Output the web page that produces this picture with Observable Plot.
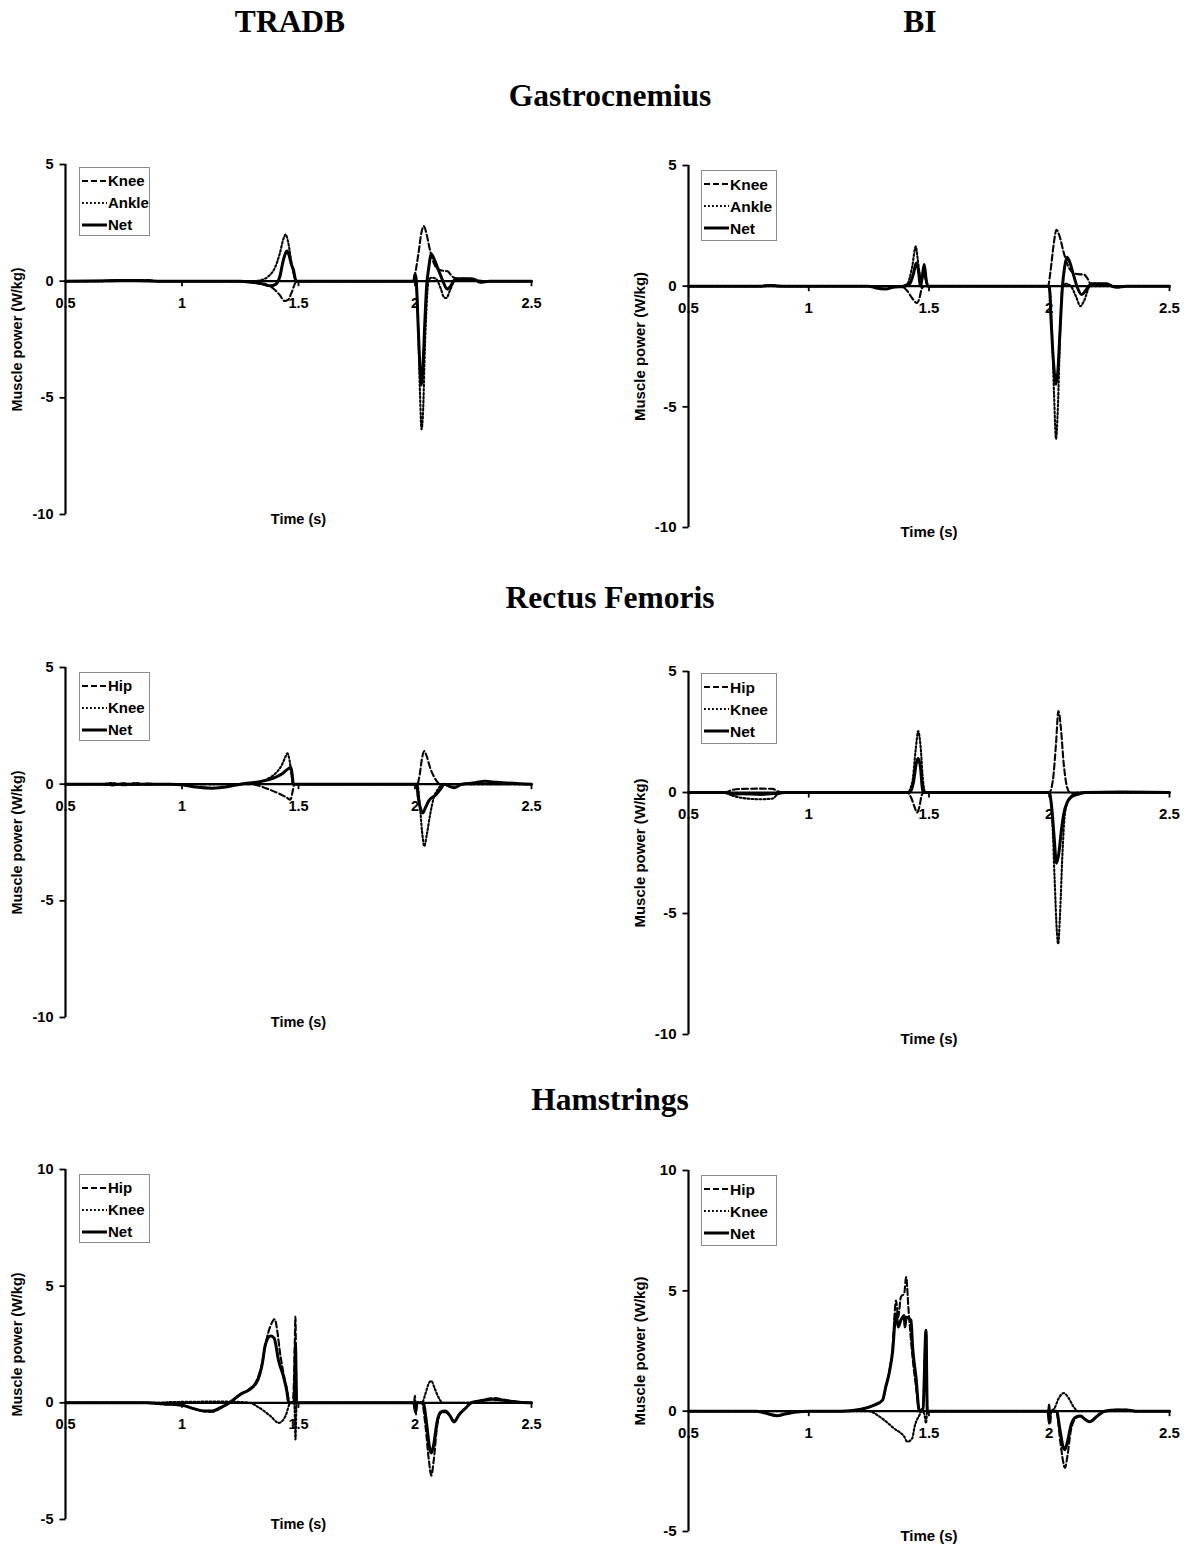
<!DOCTYPE html>
<html>
<head>
<meta charset="utf-8">
<script src="https://cdn.jsdelivr.net/npm/d3@7"></script>
<script src="https://cdn.jsdelivr.net/npm/@observablehq/plot@0.6"></script>
<style>
  html, body { margin: 0; padding: 0; background: #fff; }
  #page { position: relative; width: 1190px; height: 1546px; background: #fff; overflow: hidden; }
  .title { position: absolute; transform: translate(-50%, -50%); font-family: "Liberation Serif", "Times New Roman", serif; font-weight: bold; font-size: 31.5px; line-height: 1; white-space: nowrap; color: #000; }
  .panel { position: absolute; }
  .panel svg { max-width: none !important; }
</style>
</head>
<body>
<div id="page"></div>
<script>
// ---------- text / categories ----------
const groups = ["TRADB", "BI"];
const muscles = ["Gastrocnemius", "Rectus Femoris", "Hamstrings"];
const legendGastro = ["Knee", "Ankle", "Net"];
const legendThigh = ["Hip", "Knee", "Net"];
const xTicks = [0.5, 1, 1.5, 2, 2.5];
const yTicksSmall = [5, 0, -5, -10];
const yTicksHam = [10, 5, 0, -5];
const xLabel = "Time (s)";
const yLabel = "Muscle power (W/kg)";

// ---------- data: [time (s), power (W/kg)] ----------
// Gastrocnemius, TRADB
const gasTradbKnee = [[0.5,0],[0.65,0],[0.7,0.03],[0.75,0.05],[0.8,0.04],[0.85,0.05],[0.9,0],[1.2,0],[1.3,-0.05],[1.35,-0.15],[1.39,-0.3],[1.42,-0.6],[1.44,-0.85],[1.455,-0.8],[1.47,-0.5],[1.485,-0.1],[1.495,0],[1.99,0],[2.0,0.3],[2.015,1.2],[2.028,2.1],[2.038,2.36],[2.05,2.0],[2.065,1.3],[2.08,0.8],[2.1,0.5],[2.12,0.45],[2.14,0.42],[2.16,0.2],[2.18,0.12],[2.22,0.1],[2.26,0.05],[2.3,0],[2.5,0]];
const gasTradbAnkle = [[0.5,0],[0.65,0],[0.7,0.04],[0.8,0.05],[0.85,0.03],[0.9,0],[1.3,0],[1.34,0.05],[1.37,0.2],[1.4,0.6],[1.42,1.2],[1.435,1.8],[1.445,2.0],[1.455,1.7],[1.47,0.8],[1.485,0.1],[1.495,0],[2.0,0],[2.008,-0.5],[2.015,-2.5],[2.022,-5.0],[2.028,-6.35],[2.035,-5.5],[2.042,-3.0],[2.05,-1.0],[2.058,0],[2.07,0.15],[2.09,0.1],[2.11,-0.3],[2.125,-0.7],[2.135,-0.72],[2.15,-0.4],[2.17,0],[2.2,0.05],[2.3,0],[2.5,0]];
const gasTradbNet = [[0.5,0],[0.7,0.02],[0.8,0.03],[0.9,0],[1.25,0],[1.3,-0.05],[1.35,-0.12],[1.38,-0.2],[1.4,-0.15],[1.42,0.2],[1.435,0.9],[1.45,1.29],[1.46,1.1],[1.47,0.7],[1.478,0.5],[1.485,0.15],[1.49,0],[1.995,0],[2.0,0.3],[2.005,0.1],[2.01,-1.0],[2.018,-3.0],[2.027,-4.45],[2.035,-3.5],[2.042,-1.8],[2.05,-0.2],[2.058,0.5],[2.07,1.16],[2.08,1.0],[2.1,0.5],[2.12,0],[2.138,-0.34],[2.15,-0.25],[2.17,0.05],[2.2,0.1],[2.24,0.1],[2.26,0.05],[2.28,-0.05],[2.32,0],[2.5,0]];
// Gastrocnemius, BI
const gasBiKnee = [[0.5,0],[0.8,0],[0.83,0.04],[0.86,0.03],[0.9,0],[1.38,0],[1.41,-0.2],[1.43,-0.5],[1.45,-0.7],[1.46,-0.5],[1.47,-0.1],[1.48,0],[1.995,0],[2.005,0.6],[2.018,1.7],[2.03,2.34],[2.042,2.1],[2.06,1.4],[2.08,0.8],[2.1,0.55],[2.12,0.5],[2.145,0.48],[2.16,0.3],[2.17,0.12],[2.2,0.1],[2.24,0.08],[2.27,0],[2.5,0]];
const gasBiAnkle = [[0.5,0],[1.38,0],[1.41,0.1],[1.43,0.8],[1.445,1.65],[1.452,1.2],[1.46,0.6],[1.47,0.3],[1.48,0.5],[1.49,0.1],[1.5,0],[2.0,0],[2.01,-1.5],[2.02,-4.5],[2.028,-6.33],[2.036,-5.0],[2.045,-2.0],[2.055,0],[2.07,0.1],[2.09,0],[2.11,-0.4],[2.13,-0.83],[2.145,-0.6],[2.17,0],[2.5,0]];
const gasBiNet = [[0.5,0],[0.8,0],[0.84,0.03],[0.88,0],[1.25,0],[1.28,-0.08],[1.32,-0.12],[1.35,-0.05],[1.4,0],[1.42,0.1],[1.435,0.5],[1.447,0.96],[1.455,0.7],[1.465,0],[1.472,0.4],[1.48,0.9],[1.488,0.3],[1.495,0],[2.0,0],[2.008,-1.5],[2.018,-3.2],[2.028,-4.06],[2.036,-3.5],[2.045,-1.8],[2.055,0],[2.064,0.8],[2.074,1.2],[2.085,1.0],[2.1,0.5],[2.115,0],[2.135,-0.35],[2.15,-0.2],[2.17,0.05],[2.19,0.1],[2.24,0.1],[2.26,0],[2.28,-0.05],[2.32,0],[2.5,0]];
// Rectus Femoris, TRADB
const rfTradbHip = [[0.5,0],[0.65,0],[0.7,-0.05],[0.75,0.04],[0.8,-0.04],[0.85,0.03],[0.9,0],[1.3,0],[1.34,-0.1],[1.38,-0.25],[1.42,-0.42],[1.45,-0.58],[1.465,-0.67],[1.475,-0.3],[1.482,0],[2.01,0],[2.02,0.4],[2.03,1.1],[2.04,1.42],[2.05,1.2],[2.065,0.7],[2.08,0.35],[2.1,0.05],[2.11,0],[2.5,0]];
const rfTradbKnee = [[0.5,0],[0.65,0],[0.7,0.05],[0.75,-0.05],[0.8,0.05],[0.85,-0.03],[0.9,0],[1.25,0],[1.3,0.05],[1.34,0.12],[1.38,0.3],[1.41,0.55],[1.43,0.85],[1.445,1.2],[1.452,1.32],[1.462,1.0],[1.47,0.4],[1.476,0],[2.01,0],[2.02,-0.8],[2.03,-2.0],[2.04,-2.66],[2.05,-2.2],[2.065,-1.3],[2.08,-0.6],[2.1,-0.2],[2.12,0],[2.5,0]];
const rfTradbNet = [[0.5,0],[0.95,0],[1.0,-0.03],[1.06,-0.12],[1.13,-0.17],[1.2,-0.1],[1.25,0],[1.3,0.06],[1.34,0.12],[1.39,0.25],[1.43,0.45],[1.455,0.65],[1.468,0.71],[1.474,0.3],[1.478,0],[2.008,0],[2.013,-0.5],[2.025,-1.1],[2.033,-1.24],[2.045,-1.0],[2.06,-0.7],[2.09,-0.45],[2.11,-0.2],[2.125,0],[2.15,-0.1],[2.17,-0.15],[2.2,0],[2.25,0.05],[2.3,0.12],[2.35,0.08],[2.45,0.02],[2.5,0]];
// Rectus Femoris, BI
const rfBiHip = [[0.5,0],[0.65,0],[0.68,0.1],[0.72,0.15],[0.8,0.16],[0.85,0.15],[0.87,0.05],[0.9,0],[1.41,0],[1.425,-0.2],[1.44,-0.6],[1.45,-0.83],[1.46,-0.6],[1.47,-0.1],[1.48,0],[2.0,0],[2.015,0.5],[2.028,2.0],[2.038,3.37],[2.048,2.7],[2.06,1.2],[2.072,0.3],[2.085,0],[2.1,-0.05],[2.12,0],[2.5,0]];
const rfBiKnee = [[0.5,0],[0.65,0],[0.68,-0.12],[0.72,-0.22],[0.8,-0.28],[0.85,-0.25],[0.87,-0.08],[0.9,0],[1.41,0],[1.43,0.4],[1.445,1.8],[1.455,2.54],[1.465,1.9],[1.475,0.5],[1.485,0],[2.0,0],[2.012,-1.0],[2.022,-3.5],[2.032,-5.8],[2.037,-6.26],[2.045,-5.0],[2.055,-2.5],[2.065,-0.9],[2.08,-0.3],[2.1,-0.1],[2.12,-0.08],[2.15,0],[2.5,0]];
const rfBiNet = [[0.5,0],[0.65,0],[0.68,-0.08],[0.72,-0.05],[0.8,-0.08],[0.87,-0.03],[0.9,0],[1.42,0],[1.435,0.4],[1.447,1.2],[1.455,1.4],[1.465,1.0],[1.472,0.2],[1.478,0],[2.0,0],[2.01,-0.6],[2.02,-1.8],[2.03,-2.92],[2.04,-2.5],[2.05,-1.6],[2.06,-0.9],[2.075,-0.4],[2.09,-0.2],[2.11,-0.1],[2.15,0],[2.3,0.02],[2.5,0]];
// Hamstrings, TRADB
const hamTradbHip = [[0.5,0],[0.85,0],[0.9,-0.05],[1.0,-0.1],[1.05,-0.25],[1.1,-0.38],[1.13,-0.38],[1.17,-0.2],[1.2,0],[1.25,0.36],[1.29,0.6],[1.32,0.95],[1.344,1.7],[1.36,2.6],[1.38,3.3],[1.398,3.58],[1.41,3.0],[1.42,2.2],[1.437,1.2],[1.45,0.6],[1.462,0],[1.475,0],[1.482,1.5],[1.487,3.7],[1.49,1.0],[1.493,0],[1.995,0],[2.0,0.3],[2.004,-0.5],[2.008,0],[2.03,0],[2.045,-1.0],[2.06,-2.5],[2.07,-3.12],[2.08,-2.5],[2.095,-1.0],[2.11,-0.45],[2.13,-0.4],[2.15,-0.55],[2.167,-0.77],[2.19,-0.5],[2.22,-0.2],[2.245,0],[2.28,0.1],[2.34,0.2],[2.4,0.1],[2.45,0.03],[2.5,0]];
const hamTradbKnee = [[0.5,0],[0.9,0],[0.95,0.03],[1.1,0.05],[1.2,0.05],[1.29,0],[1.33,-0.2],[1.38,-0.57],[1.415,-0.86],[1.444,-0.57],[1.466,0],[1.482,0],[1.487,-1.57],[1.492,0],[2.03,0],[2.045,0.4],[2.06,0.85],[2.07,0.94],[2.085,0.6],[2.1,0.25],[2.12,0],[2.5,0]];
const hamTradbNet = [[0.5,0],[0.85,0],[0.9,-0.03],[1.0,-0.1],[1.05,-0.25],[1.1,-0.35],[1.13,-0.35],[1.17,-0.18],[1.208,0.03],[1.25,0.36],[1.29,0.57],[1.323,0.93],[1.344,1.65],[1.358,2.5],[1.38,2.86],[1.395,2.78],[1.415,1.79],[1.437,1.07],[1.45,0.5],[1.458,0],[1.482,0],[1.487,2.5],[1.492,0],[1.995,0],[2.002,-0.4],[2.008,0],[2.035,0],[2.05,-0.9],[2.062,-1.9],[2.07,-2.15],[2.08,-1.8],[2.095,-0.8],[2.11,-0.4],[2.13,-0.35],[2.15,-0.55],[2.167,-0.82],[2.19,-0.5],[2.22,-0.2],[2.24,0],[2.28,0.08],[2.33,0.15],[2.4,0.08],[2.45,0.02],[2.5,0]];
// Hamstrings, BI
const hamBiHip = [[0.5,0],[0.78,0],[0.82,-0.08],[0.87,-0.19],[0.9,-0.12],[0.95,-0.03],[1.0,0],[1.133,0],[1.217,0.08],[1.272,0.25],[1.307,0.46],[1.32,1.0],[1.334,1.6],[1.348,2.6],[1.363,4.6],[1.372,3.9],[1.383,4.74],[1.397,4.9],[1.405,5.57],[1.415,4.2],[1.43,2.4],[1.446,1.0],[1.46,0],[1.475,0.1],[1.4875,3.3],[1.493,0],[1.995,0],[2.0,0.3],[2.004,-0.5],[2.008,0],[2.03,0],[2.045,-1.2],[2.058,-2.1],[2.065,-2.36],[2.075,-1.9],[2.09,-0.8],[2.11,-0.3],[2.13,-0.2],[2.15,-0.35],[2.168,-0.45],[2.2,-0.2],[2.23,0],[2.28,0.06],[2.32,0.06],[2.36,0],[2.5,0]];
const hamBiKnee = [[0.5,0],[1.244,0],[1.314,-0.37],[1.355,-0.72],[1.397,-1.06],[1.41,-1.27],[1.43,-1.13],[1.44,-0.65],[1.46,-0.17],[1.47,0],[1.48,-0.1],[1.4875,-0.5],[1.493,0],[2.0,0],[2.02,0.1],[2.04,0.55],[2.06,0.75],[2.08,0.55],[2.1,0.2],[2.12,0],[2.5,0]];
const hamBiNet = [[0.5,0],[0.78,0],[0.82,-0.08],[0.87,-0.19],[0.9,-0.12],[0.95,-0.03],[1.0,0],[1.133,0],[1.217,0.08],[1.272,0.25],[1.307,0.46],[1.32,1.0],[1.334,1.56],[1.348,2.4],[1.363,4.05],[1.372,3.5],[1.383,3.78],[1.397,3.98],[1.4,3.5],[1.405,3.9],[1.425,3.78],[1.432,2.65],[1.446,1.4],[1.46,0],[1.475,0.1],[1.4875,3.36],[1.493,0],[1.995,0],[2.0,-0.5],[2.005,0],[2.03,0],[2.045,-0.8],[2.058,-1.5],[2.065,-1.6],[2.075,-1.3],[2.09,-0.6],[2.11,-0.25],[2.13,-0.2],[2.15,-0.35],[2.168,-0.44],[2.2,-0.2],[2.23,0],[2.28,0.05],[2.32,0.05],[2.36,0],[2.5,0]];

// ---------- layout ----------
const page = document.getElementById("page");
const FONT = "'Liberation Sans', Arial, Helvetica, sans-serif";

function addTitle(text, cx, cy) {
  const d = document.createElement("div");
  d.className = "title";
  d.textContent = text;
  d.style.left = cx + "px";
  d.style.top = cy + "px";
  page.appendChild(d);
}
addTitle(groups[0], 290, 22);
addTitle(groups[1], 920, 22);
addTitle(muscles[0], 610, 96);
addTitle(muscles[1], 610, 598);
addTitle(muscles[2], 610, 1100);

const dashStyles = [
  {dash: "6,3", width: 2.1},
  {dash: "1.8,2.2", width: 2.1},
  {dash: null, width: 3}
];

function panel(p) {
  const mL = 70, mR = 14, mT = 30, mB = 40;
  const width = p.x1 - p.x0 + mL + mR;
  const height = p.yBot - p.yTop + mT + mB;
  const [yMin, yMax] = p.yDomain;
  const yPerPx = (yMax - yMin) / (p.yBot - p.yTop);
  const xPerPx = 2 / (p.x1 - p.x0);
  const fs = p.fs;
  const seriesMarks = p.series.map((s, i) => Plot.line(s, {
    x: d => d[0], y: d => d[1],
    stroke: "black",
    strokeWidth: dashStyles[i].width,
    strokeDasharray: dashStyles[i].dash,
    curve: "monotone-x"
  }));
  const chart = Plot.plot({
    width, height,
    marginLeft: mL, marginRight: mR, marginTop: mT, marginBottom: mB,
    x: {domain: [0.5, 2.5], axis: null},
    y: {domain: [yMin, yMax], axis: null},
    style: {background: "transparent", color: "black", fontFamily: FONT, overflow: "visible"},
    marks: [
      ...seriesMarks,
      Plot.ruleY([0], {stroke: "black", strokeWidth: 2.2}),
      Plot.ruleX([0.5], {stroke: "black", strokeWidth: 2.2}),
      Plot.link(xTicks.slice(1), {x1: d => d, x2: d => d, y1: 0, y2: -5 * yPerPx, stroke: "black", strokeWidth: 1.8}),
      Plot.link(p.yTicks, {x1: 0.5, x2: 0.5 - 6 * xPerPx, y1: d => d, y2: d => d, stroke: "black", strokeWidth: 1.8}),
      Plot.text(xTicks, {x: d => d, y: 0, dy: 22, text: d => String(d), fontWeight: "bold", fontSize: fs, fill: "black"}),
      Plot.text(p.yTicks, {x: 0.5, y: d => d, dx: -12, textAnchor: "end", text: d => String(d), fontWeight: "bold", fontSize: fs, fill: "black"}),
      Plot.text([yLabel], {frameAnchor: "left", rotate: -90, dx: -48, textAnchor: "middle", lineAnchor: "middle", fontWeight: "bold", fontSize: fs, fill: "black"}),
      Plot.text([xLabel], {frameAnchor: "bottom", dy: 5, textAnchor: "middle", lineAnchor: "middle", fontWeight: "bold", fontSize: fs, fill: "black"})
    ]
  });
  const wrap = document.createElement("div");
  wrap.className = "panel";
  wrap.style.left = (p.x0 - mL) + "px";
  wrap.style.top = (p.yTop - mT) + "px";
  wrap.style.width = width + "px";
  wrap.style.height = height + "px";
  wrap.appendChild(chart);
  page.appendChild(wrap);

  // legend box
  const [lx, ly, lw, lh] = p.legendBox;
  const svg = d3.select(page).append("svg")
    .style("position", "absolute").style("left", lx + "px").style("top", ly + "px")
    .attr("width", lw).attr("height", lh);
  svg.append("rect").attr("x", 0.5).attr("y", 0.5).attr("width", lw - 1).attr("height", lh - 1)
    .attr("fill", "white").attr("stroke", "#8a8a8a").attr("stroke-width", 1);
  p.labels.forEach((lab, i) => {
    const cy = 14 + i * 22;
    const ln = svg.append("line").attr("x1", 3).attr("x2", 28).attr("y1", cy).attr("y2", cy)
      .attr("stroke", "black").attr("stroke-width", dashStyles[i].width);
    if (dashStyles[i].dash) ln.attr("stroke-dasharray", dashStyles[i].dash);
    svg.append("text").attr("x", 29).attr("y", cy).attr("dy", "0.36em")
      .attr("font-family", FONT).attr("font-weight", "bold").attr("font-size", p.lfs)
      .attr("fill", "black").text(lab);
  });
}

panel({x0: 65, x1: 531, yTop: 164, yBot: 514, yDomain: [-10, 5], yTicks: yTicksSmall,
  series: [gasTradbKnee, gasTradbAnkle, gasTradbNet], labels: legendGastro, fs: 14.5, lfs: 15, legendBox: [79, 167, 71, 69]});
panel({x0: 688, x1: 1169, yTop: 165, yBot: 527, yDomain: [-10, 5], yTicks: yTicksSmall,
  series: [gasBiKnee, gasBiAnkle, gasBiNet], labels: legendGastro, fs: 15, lfs: 15.5, legendBox: [701, 170, 76, 71]});
panel({x0: 65, x1: 531, yTop: 667, yBot: 1017, yDomain: [-10, 5], yTicks: yTicksSmall,
  series: [rfTradbHip, rfTradbKnee, rfTradbNet], labels: legendThigh, fs: 14.5, lfs: 15, legendBox: [79, 672, 71, 69]});
panel({x0: 688, x1: 1169, yTop: 671, yBot: 1034, yDomain: [-10, 5], yTicks: yTicksSmall,
  series: [rfBiHip, rfBiKnee, rfBiNet], labels: legendThigh, fs: 15, lfs: 15.5, legendBox: [701, 673, 76, 71]});
panel({x0: 65, x1: 531, yTop: 1169, yBot: 1519, yDomain: [-5, 10], yTicks: yTicksHam,
  series: [hamTradbHip, hamTradbKnee, hamTradbNet], labels: legendThigh, fs: 14.5, lfs: 15, legendBox: [79, 1174, 71, 69]});
panel({x0: 688, x1: 1169, yTop: 1170, yBot: 1531, yDomain: [-5, 10], yTicks: yTicksHam,
  series: [hamBiHip, hamBiKnee, hamBiNet], labels: legendThigh, fs: 15, lfs: 15.5, legendBox: [701, 1175, 76, 71]});
</script>
</body>
</html>
